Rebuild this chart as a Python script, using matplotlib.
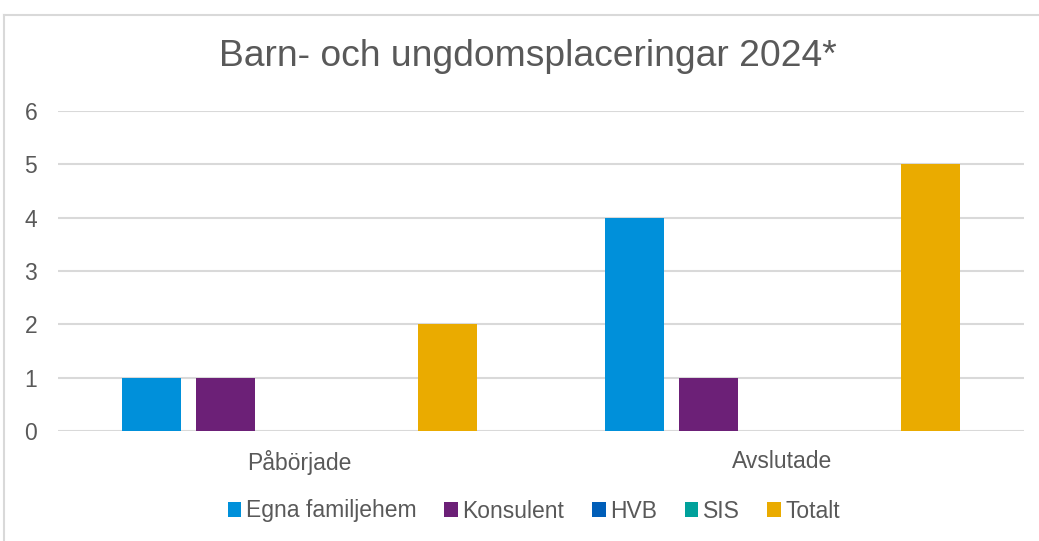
import numpy as np
import matplotlib
matplotlib.use("Agg")
import matplotlib.pyplot as plt
from matplotlib.lines import Line2D

# data
categories = ["Påbörjade", "Avslutade"]
series = ["Egna familjehem", "Konsulent", "HVB", "SIS", "Totalt"]
egna = [1, 4]
konsulent = [1, 1]
hvb = [0, 0]
sis = [0, 0]
totalt = [2, 5]
colors = ["#0090DA", "#6C2077", "#005EB8", "#00A19B", "#EAAB00"]

plt.rcParams["font.family"] = ["Liberation Sans", "DejaVu Sans"]
TXT = "#595959"
GRID = "#d9d9d9"

W, H = 1039, 541
fig = plt.figure(figsize=(W / 100, H / 100), dpi=100)
ax = fig.add_axes([58 / W, 110 / H, 966 / W, 320 / H])

x = np.arange(len(categories))
step = 0.153
width = 0.122
values = [egna, konsulent, hvb, sis, totalt]
for i, (name, vals, c) in enumerate(zip(series, values, colors)):
    ax.bar(x + (i - 2) * step, vals, width, color=c, label=name, zorder=3)

ax.set_xlim(-0.5, 1.5)
ax.set_ylim(0, 6)
ax.set_yticks(range(7))
ax.set_xticks(x)
ax.set_xticklabels(categories)
ax.tick_params(length=0, labelsize=16.5, colors=TXT)
ax.tick_params(axis="y", pad=15)
ax.tick_params(axis="x", pad=14)
ax.grid(axis="y", color=GRID, lw=1.5, zorder=0)
for s in ax.spines.values():
    s.set_visible(False)

fig.text(528 / W, 1 - 57 / H, "Barn- och ungdomsplaceringar 2024*", ha="center", va="center",
         fontsize=26.8, color=TXT)

leg = fig.legend(loc="center", bbox_to_anchor=(534 / W, 1 - 511 / H), ncol=5, frameon=False,
                 fontsize=16.5, handlelength=0.6, handleheight=0.6, handletextpad=0.2,
                 columnspacing=1.2, labelcolor=TXT)

# chart border
fig.add_artist(Line2D([3.5 / W, 3.5 / W], [1 - 14.5 / H, 0], transform=fig.transFigure, color=GRID, lw=1.5))
fig.add_artist(Line2D([3.5 / W, 1], [1 - 14.5 / H, 1 - 14.5 / H], transform=fig.transFigure, color=GRID, lw=1.5))

fig.savefig("out.png", dpi=100)
